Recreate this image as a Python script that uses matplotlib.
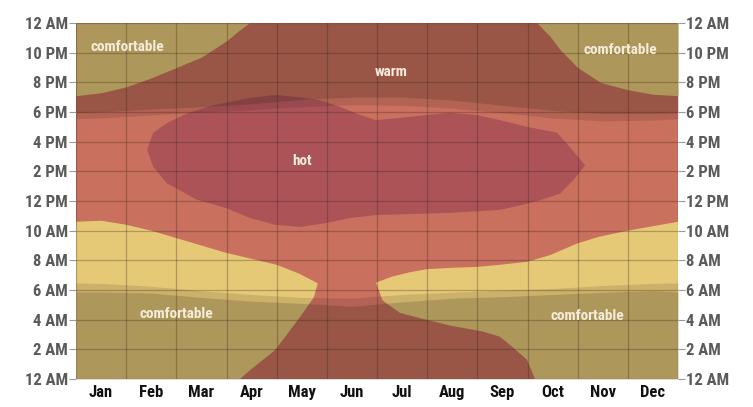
import numpy as np
import matplotlib
matplotlib.use("Agg")
import matplotlib.pyplot as plt
from matplotlib import font_manager

names = {f.name for f in font_manager.fontManager.ttflist}
condensed = [n for n in ['Roboto Condensed', 'Liberation Sans Narrow', 'DejaVu Sans Condensed',
                         'Open Sans Condensed', 'Roboto'] if n in names]
plt.rcParams['font.family'] = condensed[:1] + ['DejaVu Sans']

months = ["Jan", "Feb", "Mar", "Apr", "May", "Jun",
          "Jul", "Aug", "Sep", "Oct", "Nov", "Dec"]
hour_ticks = list(range(0, 25, 2))
hour_labels = ["12 AM", "2 AM", "4 AM", "6 AM", "8 AM", "10 AM", "12 PM",
               "2 PM", "4 PM", "6 PM", "8 PM", "10 PM", "12 AM"]

# x = months since Jan 1, y = hour of day
# comfortable, late evening, early in the year
ctl_m = [0, 0.5, 1, 1.5, 2, 2.5, 3, 3.25, 3.45]
ctl_h = [19.1, 19.3, 19.7, 20.3, 21.0, 21.7, 22.8, 23.5, 24]
# comfortable, late evening, end of year
ctr_m = [9.19, 9.45, 9.65, 10.0, 10.45, 11.0, 11.5, 12]
ctr_h = [24, 23.1, 22.2, 21.0, 20.0, 19.5, 19.2, 19.1]
# comfortable, morning, first half
cbl_top_m = [0, 0.5, 1, 1.5, 2, 2.5, 3, 3.5, 4, 4.45, 4.82]
cbl_top_h = [10.6, 10.67, 10.4, 10.0, 9.5, 9.0, 8.5, 8.1, 7.7, 7.1, 6.45]
cbl_low_m = [4.82, 4.74, 4.46, 3.97, 3.47, 3.27]
cbl_low_h = [6.45, 5.5, 4.15, 1.95, 0.6, 0]
# comfortable, morning, second half
cbr_top_m = [5.98, 6.3, 6.66, 6.98, 7.5, 7.97, 8.45, 8.99, 9.45, 10.0, 10.44, 11.0, 11.5, 12]
cbr_top_h = [6.5, 6.9, 7.2, 7.4, 7.5, 7.55, 7.7, 7.9, 8.35, 9.15, 9.6, 10.0, 10.3, 10.6]
cbr_low_m = [5.98, 6.11, 6.46, 6.92, 7.46, 8.11, 8.45, 8.65, 8.99, 9.15]
cbr_low_h = [6.5, 5.3, 4.45, 4.05, 3.6, 3.2, 2.85, 2.3, 1.3, 0]
# hot
hot_m = [1.42, 1.54, 1.81, 2.21, 2.73, 3.47, 3.97, 4.46, 4.86, 5.26, 5.66, 5.98,
         6.46, 6.98, 7.45, 7.97, 8.45, 8.99, 9.59, 9.89, 10.15, 9.91, 9.65, 9.25,
         8.85, 8.45, 7.45, 6.46, 5.97, 5.46, 4.96, 4.46, 3.97, 3.47, 3.01, 2.4,
         1.81, 1.54]
hot_h = [15.45, 16.6, 17.25, 17.9, 18.45, 18.95, 19.15, 19.0, 18.8, 18.35, 17.8, 17.45,
         17.6, 17.8, 17.95, 17.8, 17.45, 17.0, 16.6, 15.45, 14.4, 13.4, 12.5, 12.05,
         11.7, 11.4, 11.2, 11.1, 11.05, 10.85, 10.5, 10.25, 10.4, 10.85, 11.5, 12.1,
         13.2, 14.3]

# daylight
sun_m = [0, 0.5, 1.5, 2.5, 3.5, 4.5, 5.5, 6.5, 7.5, 8.5, 9.5, 10.5, 11.5, 12]
dawn = [5.87, 5.87, 5.8, 5.5, 5.25, 5.1, 4.9, 5.2, 5.45, 5.55, 5.7, 5.85, 5.95, 5.87]
sunrise = [6.47, 6.45, 6.25, 5.95, 5.7, 5.5, 5.45, 5.7, 5.85, 6.0, 6.1, 6.3, 6.45, 6.47]
sunset = [17.55, 17.6, 17.8, 18.0, 18.15, 18.35, 18.5, 18.45, 18.25, 17.95, 17.6, 17.4, 17.45, 17.55]
dusk = [17.95, 18.0, 18.2, 18.35, 18.55, 18.85, 19.0, 19.0, 18.8, 18.45, 18.1, 17.9, 17.9, 17.95]

c_warm = '#C9705E'
c_comf = '#E6C977'
c_hot = '#AC5358'
c_night = '#1A120C'

fig = plt.figure(figsize=(7.53, 4.07), dpi=100)
ax = fig.add_axes([76 / 753, 28 / 407, 602 / 753, 356 / 407])
ax.set_facecolor(c_warm)

ax.fill_between(ctl_m, ctl_h, 24, color=c_comf, lw=0)
ax.fill_between(ctr_m, ctr_h, 24, color=c_comf, lw=0)
ax.fill([0] + cbl_top_m + cbl_low_m[1:], [0] + cbl_top_h + cbl_low_h[1:], color=c_comf, lw=0)
ax.fill([12] + cbr_top_m[::-1] + cbr_low_m[1:], [0] + cbr_top_h[::-1] + cbr_low_h[1:],
        color=c_comf, lw=0)
ax.fill(hot_m, hot_h, color=c_hot, lw=0)

# night and twilight shading
ax.fill_between(sun_m, 0, dawn, color=c_night, alpha=0.27, lw=0)
ax.fill_between(sun_m, dawn, sunrise, color=c_night, alpha=0.13, lw=0)
ax.fill_between(sun_m, dusk, 24, color=c_night, alpha=0.27, lw=0)
ax.fill_between(sun_m, sunset, dusk, color=c_night, alpha=0.13, lw=0)

txt = dict(color='#F4EBDA', fontsize=11, fontweight='bold', ha='center', va='center')
ax.text(1.03, 22.4, "comfortable", **txt)
ax.text(10.86, 22.2, "comfortable", **txt)
ax.text(2.01, 4.4, "comfortable", **txt)
ax.text(10.19, 4.25, "comfortable", **txt)
ax.text(6.28, 20.7, "warm", **txt)
ax.text(4.5, 14.7, "hot", **txt)

ax.set_xlim(0, 12)
ax.set_ylim(0, 24)
ax.set_xticks(range(13))
ax.set_xticklabels([])
ax.set_xticks(np.arange(12) + 0.5, minor=True)
ax.set_xticklabels(months, minor=True, fontweight='bold')
ax.set_yticks(hour_ticks)
ax.set_yticklabels(hour_labels, fontweight='bold')
ax.grid(True, color='#3A2214', alpha=0.3, lw=0.9)
ax.set_axisbelow(False)
for s in ax.spines.values():
    s.set_visible(False)

ax.tick_params(axis='x', which='both', length=0, pad=4,
               labelsize=12, labelcolor='#111111')
ax.tick_params(axis='y', length=5, width=0.8, color='#999999', pad=1,
               labelsize=12, labelcolor='#5A5A5A', right=True, labelright=True)
for t in ax.yaxis.get_major_ticks():
    t.label2.set_fontweight('bold')

fig.savefig("out.png", dpi=100)
